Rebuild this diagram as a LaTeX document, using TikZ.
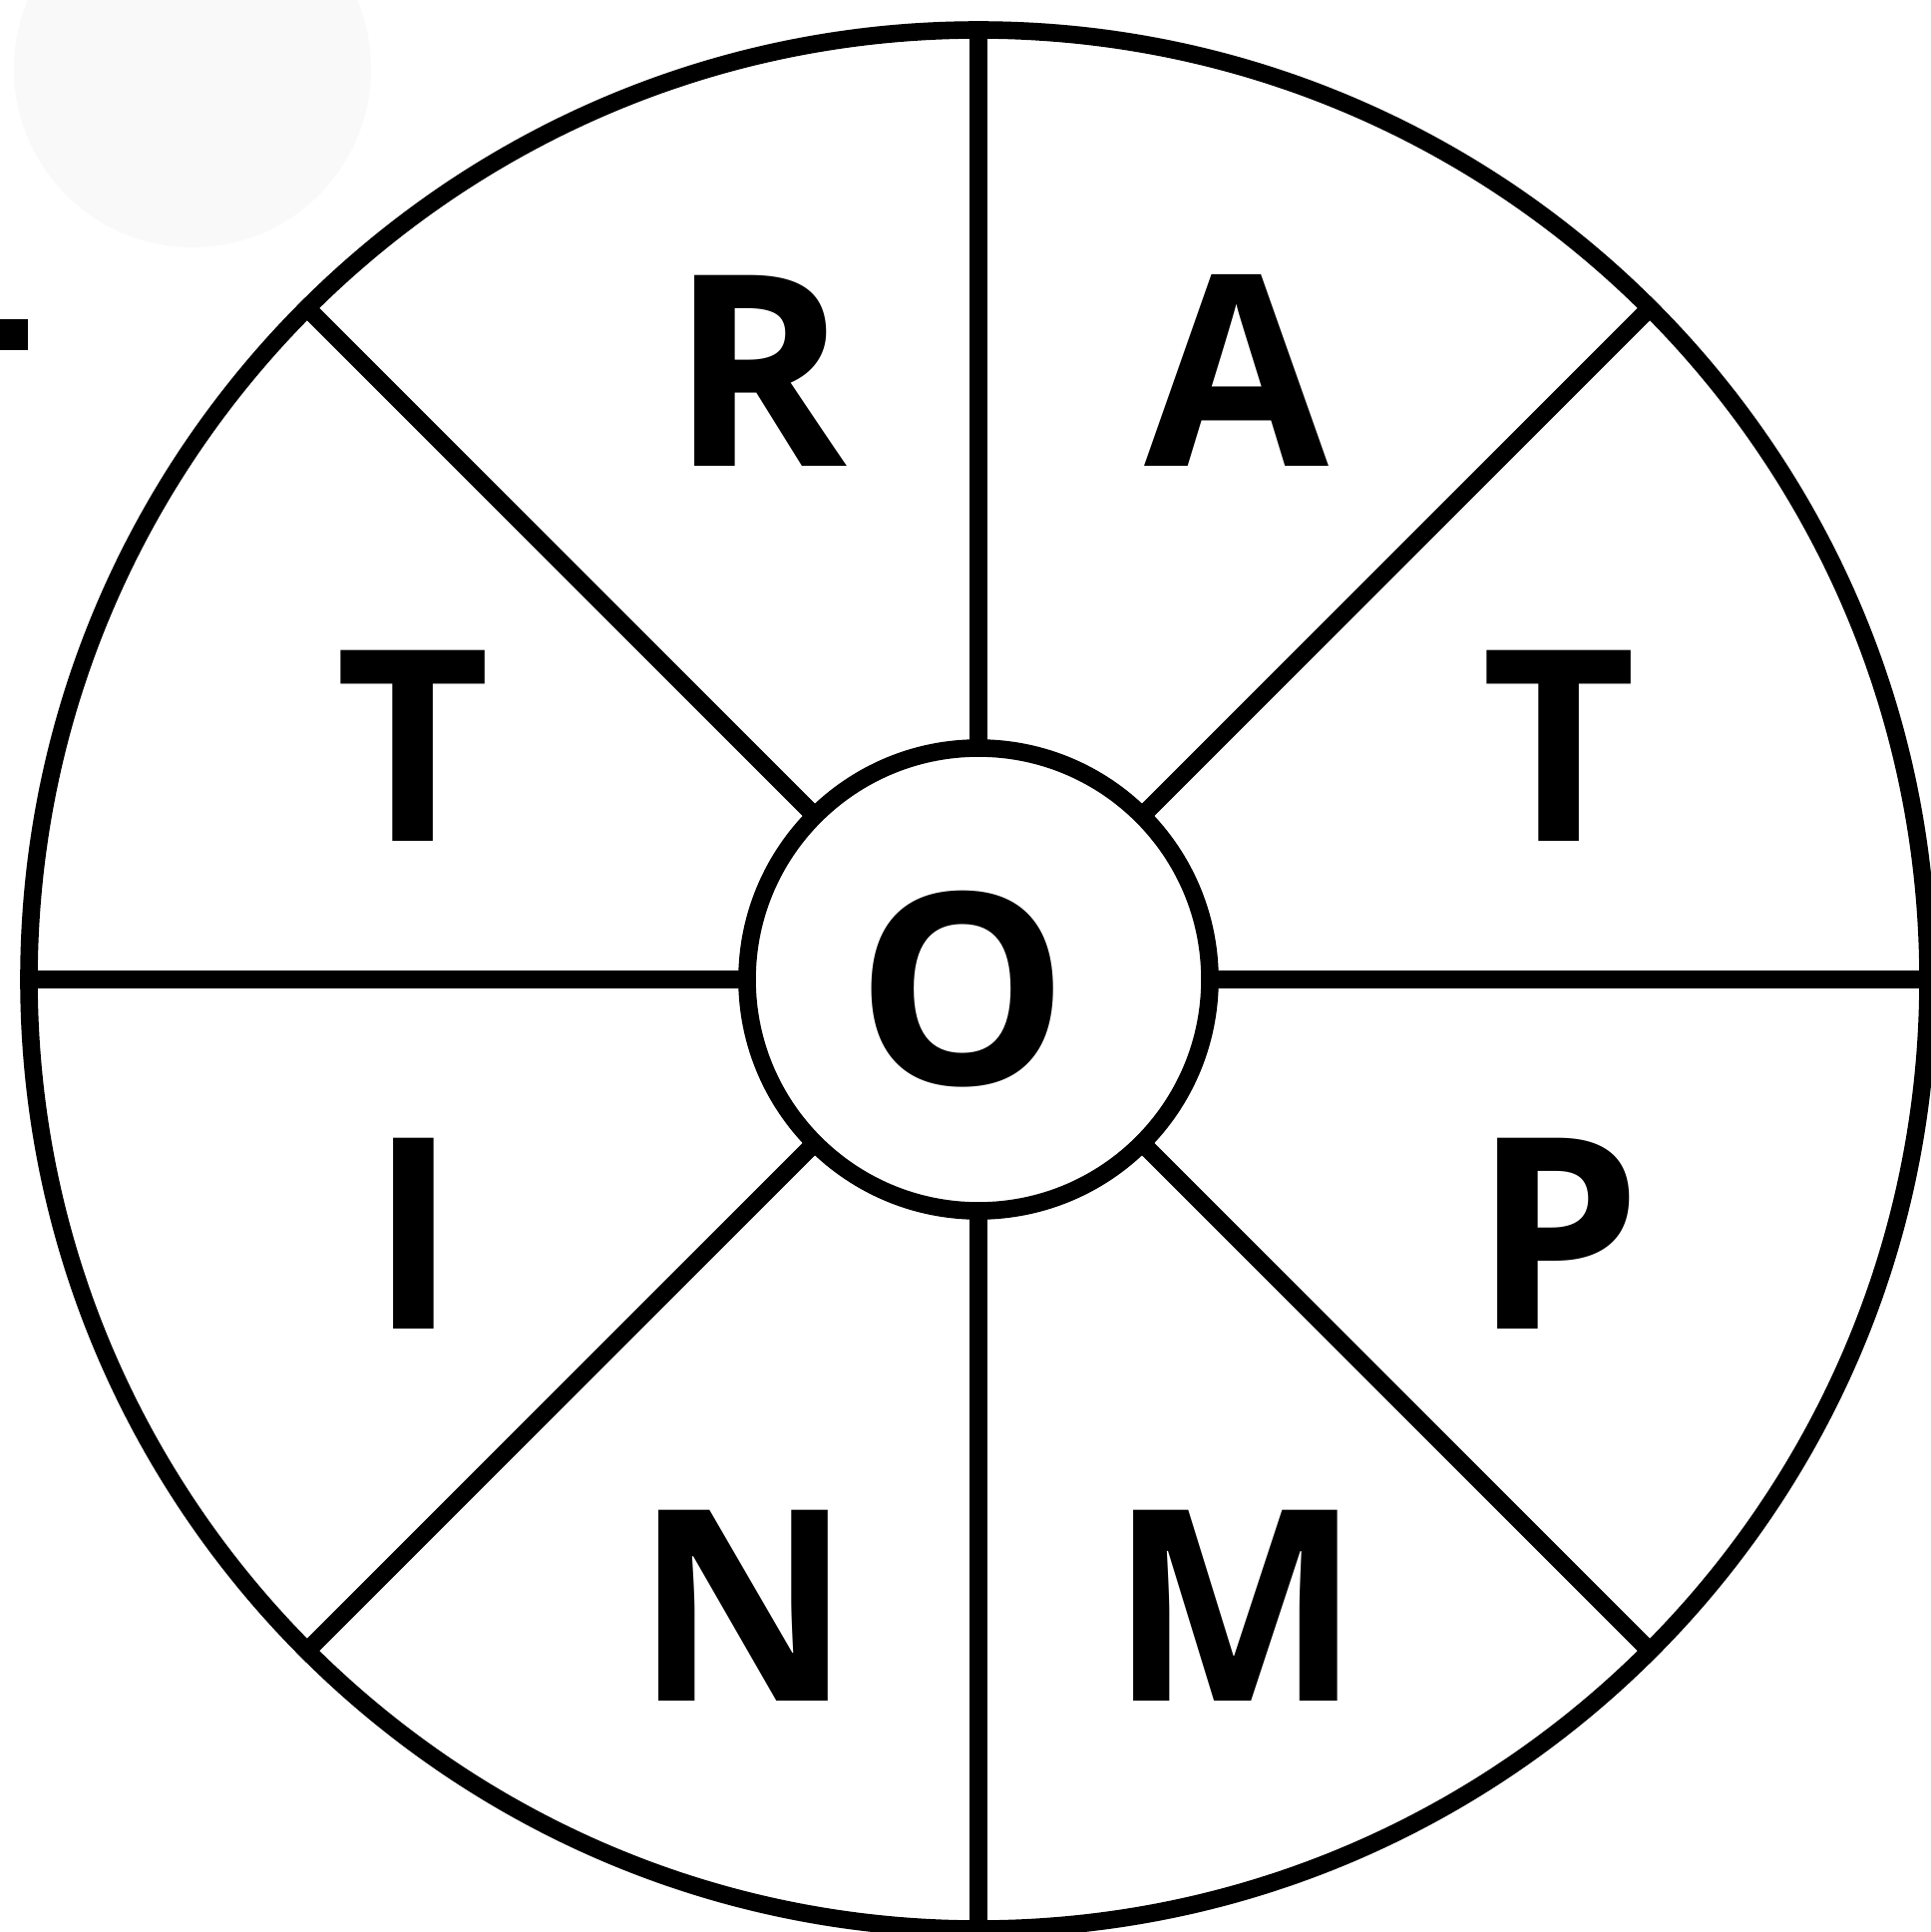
\documentclass[tikz,border=0pt]{standalone}
\usepackage{fontspec}
\setmainfont{Open Sans}
\definecolor{ghost}{RGB}{249,249,249}
\begin{document}
\begin{tikzpicture}[x=0.5pt,y=-0.5pt,
  ring/.style={circle,draw=black,line width=8.8pt,inner sep=0pt,outer sep=0pt},
  spoke/.style={draw=black,line width=8.8pt},
  letter/.style={inner sep=0pt,anchor=base,font=\fontsize{134}{134}\selectfont\bfseries}]
\useasboundingbox (0,0) rectangle (1936,1937);
\fill[white] (0,0) rectangle (1936,1937);
\fill[ghost] (193,69) circle[radius=89.5pt];
\fill[black] (0,320) rectangle (28,351);
\node[ring,minimum size=952pt] (outer) at (981,982) {};
\node[ring,minimum size=232pt] (inner) at (981,982) {};
\foreach \a in {0,45,...,315}{
  \draw[spoke] (inner.\a) -- (outer.\a);
}
\node[letter] (lR) at (761,467) {R};
\node[letter] (lA) at (1240,467) {A};
\node[letter] (lT1) at (414,843) {T};
\node[letter] (lT2) at (1563,843) {T};
\node[letter] (lO) at (965,1087) {O};
\node[letter] (lI) at (415,1332) {I};
\node[letter] (lP) at (1562,1332) {P};
\node[letter] (lN) at (745,1705) {N};
\node[letter] (lM) at (1239,1705) {M};
\end{tikzpicture}
\end{document}
